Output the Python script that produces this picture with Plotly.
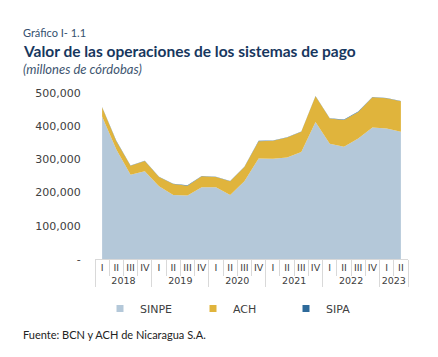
import plotly.graph_objects as go

years = ["2018"] * 4 + ["2019"] * 4 + ["2020"] * 4 + ["2021"] * 4 + ["2022"] * 4 + ["2023"] * 2
quarters = ["I", "II", "III", "IV"] * 5 + ["I", "II"]

sinpe = [429000, 330000, 254000, 264000, 219000, 193000, 191000, 216000, 216000, 193000, 234000,
         303000, 302000, 306000, 322000, 413000, 347000, 338000, 363000, 396000, 393000, 383000]
ach = [28000, 25000, 27000, 31000, 28000, 33000, 30000, 33000, 31000, 41000, 43000,
       52000, 54000, 60000, 61000, 77000, 76000, 81000, 80000, 91000, 91000, 92000]
sipa = [1000, 1000, 1000, 1000, 1000, 1000, 1000, 1000, 1000, 1000, 1000,
        1000, 1000, 1000, 1000, 1000, 1000, 1000, 1000, 1000, 1000, 1000]

series_names = ["SINPE", "ACH", "SIPA"]
series_colors = ["#B4C8D9", "#E0B43C", "#2E6A9A"]

y_tickvals = [0, 100000, 200000, 300000, 400000, 500000]
y_ticktext = ["-", "100,000", "200,000", "300,000", "400,000", "500,000"]

W, H = 438, 357
ML, MR, MT, MB = 95, 30, 93, 98
PW, PH = W - ML - MR, H - MT - MB


def px(x):
    return (x - ML) / PW


def py(y):
    return (H - MB - y) / PH


fig = go.Figure()
x = [years, quarters]
for name, vals, col in zip(series_names, [sinpe, ach, sipa], series_colors):
    fig.add_trace(go.Scatter(
        x=x, y=vals, name=name, stackgroup="one", mode="none",
        fillcolor=col, line=dict(width=0), showlegend=False, hoverinfo="x+y+name"))
    # legend proxy (square swatch)
    fig.add_trace(go.Scatter(
        x=[None], y=[None], name=name, mode="markers",
        marker=dict(symbol="square", size=7, color=col), showlegend=True))

fig.update_layout(
    width=W, height=H,
    margin=dict(l=ML, r=MR, t=MT, b=MB, pad=0, autoexpand=False),
    paper_bgcolor="white", plot_bgcolor="white",
    font=dict(family="DejaVu Sans", color="#404040"),
    showlegend=True,
    legend=dict(orientation="h", x=px(100), xanchor="left", y=py(294), yanchor="top",
                traceorder="normal",
                entrywidth=48, entrywidthmode="pixels",
                font=dict(family="DejaVu Sans", size=11, color="#404040"),
                bgcolor="rgba(0,0,0,0)", itemclick=False),
)

fig.update_xaxes(
    type="multicategory", range=[-0.5, 21.5], tickangle=0, automargin=False,
    showline=True, linecolor="#D9D9D9", linewidth=1,
    ticks="outside", tickson="boundaries", ticklen=16, tickcolor="#D9D9D9",
    showdividers=True, dividercolor="#D9D9D9", dividerwidth=1,
    tickfont=dict(family="DejaVu Sans", size=9.5, color="#404040"),
    showgrid=False, zeroline=False,
)
fig.update_yaxes(
    range=[0, 500000], tickvals=y_tickvals, ticktext=y_ticktext, automargin=False,
    showgrid=False, zeroline=False, showline=False,
    ticks="outside", ticklen=11, tickcolor="rgba(0,0,0,0)",
    tickfont=dict(family="DejaVu Sans", size=11, color="#404040"),
)

anns = [
    dict(text="Gráfico I- 1.1", x=px(21), y=py(32), size=11, color="#34506E", family="Lato"),
    dict(text="<b>Valor de las operaciones de los sistemas de pago</b>", x=px(21), y=py(51),
         size=15.5, color="#17375E", family="Lato"),
    dict(text="<i>(millones de córdobas)</i>", x=px(21), y=py(69), size=13, color="#3E5570",
         family="Lato"),
    dict(text="Fuente: BCN y ACH de Nicaragua S.A.", x=px(21), y=py(334), size=11,
         color="#222222", family="Lato"),
]
for a in anns:
    fig.add_annotation(text=a["text"], x=a["x"], y=a["y"], xref="paper", yref="paper",
                       xanchor="left", yanchor="middle", showarrow=False,
                       font=dict(size=a["size"], color=a["color"], family=a["family"]))

fig.write_html("out.html", config={"displayModeBar": False},
               post_script="document.body.style.margin='0';")
